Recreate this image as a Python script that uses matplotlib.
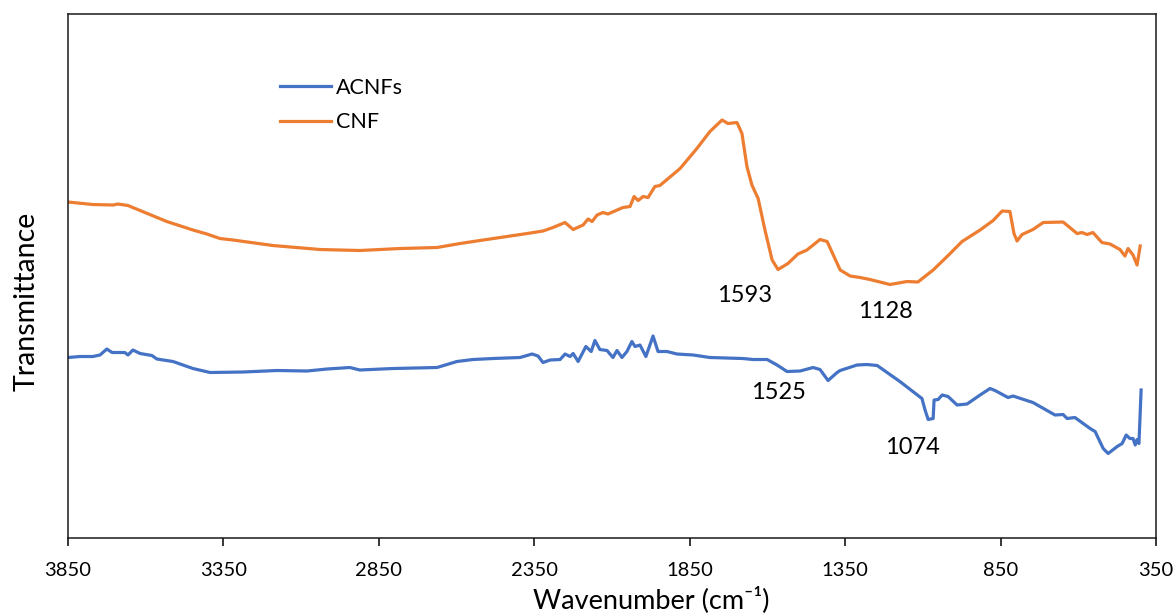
import matplotlib
matplotlib.use("Agg")
import matplotlib.pyplot as plt

plt.rcParams['font.family'] = ['Lato', 'DejaVu Sans']

# FTIR spectra, wavenumber (cm-1) vs transmittance (a.u.)
cnf_wn = [3850, 3770, 3705, 3689, 3657, 3618, 3532, 3448, 3403, 3361, 3319, 3191,
          3039, 2911, 2782, 2663, 2589, 2525, 2373, 2322, 2290, 2251, 2225, 2193,
          2177, 2164, 2148, 2129, 2113, 2065, 2042, 2029, 2016, 2000, 1984, 1962,
          1946, 1881, 1827, 1785, 1746, 1727, 1698, 1682, 1666, 1650, 1630, 1608,
          1585, 1566, 1534, 1502, 1473, 1431, 1408, 1366, 1334, 1302, 1270, 1206,
          1151, 1116, 1067, 1022, 974, 916, 874, 845, 820, 807, 797, 781, 746, 713,
          649, 604, 588, 572, 553, 524, 498, 466, 450, 440, 424, 411, 401]
cnf_t = [67.2, 66.7, 66.6, 66.8, 66.5, 65.5, 63.3, 61.6, 60.8, 59.9, 59.6, 58.5,
         57.7, 57.5, 57.9, 58.1, 58.9, 59.5, 60.9, 61.4, 62.1, 63.1, 61.7, 62.6,
         63.8, 63.3, 64.6, 65.1, 64.8, 66.1, 66.3, 68.3, 67.5, 68.3, 68.1, 70.3,
         70.5, 73.9, 77.9, 81.3, 83.6, 82.9, 83.1, 80.9, 74.3, 70.6, 67.9, 61.6,
         55.6, 53.7, 54.9, 56.8, 57.6, 59.7, 59.3, 53.6, 52.4, 52.1, 51.7, 50.7,
         51.3, 51.2, 53.6, 56.3, 59.3, 61.6, 63.5, 65.4, 65.3, 60.9, 59.4, 60.7,
         61.7, 63.1, 63.2, 60.9, 61.1, 60.7, 61.1, 59.1, 58.8, 57.7, 56.4, 57.9,
         56.6, 54.6, 58.4]

acnf_wn = [3850, 3811, 3770, 3747, 3725, 3708, 3667, 3657, 3641, 3618, 3580, 3564,
           3512, 3448, 3393, 3287, 3178, 3081, 3017, 2943, 2911, 2805, 2663, 2599,
           2547, 2483, 2396, 2357, 2338, 2322, 2299, 2267, 2251, 2235, 2225, 2209,
           2184, 2167, 2155, 2139, 2116, 2097, 2084, 2068, 2052, 2036, 2026, 2010,
           1991, 1968, 1952, 1923, 1891, 1839, 1785, 1679, 1646, 1601, 1569, 1537,
           1495, 1453, 1431, 1405, 1376, 1366, 1312, 1280, 1247, 1174, 1103, 1093,
           1083, 1067, 1064, 1051, 1038, 1019, 990, 958, 916, 884, 868, 826, 810,
           746, 675, 649, 636, 611, 562, 546, 520, 504, 475, 459, 446, 434, 424,
           417, 411, 405, 398]
acnf_t = [36.1, 36.3, 36.3, 36.6, 37.8, 37.1, 37.1, 36.6, 37.6, 36.9, 36.5, 35.8,
          35.3, 33.9, 33.1, 33.2, 33.5, 33.4, 33.8, 34.1, 33.6, 33.9, 34.1, 35.3,
          35.7, 35.9, 36.1, 36.8, 36.4, 35.1, 35.6, 35.7, 36.8, 36.3, 36.9, 35.3,
          38.3, 37.3, 39.5, 37.7, 37.5, 36.1, 37.5, 36.1, 37.3, 39.3, 38.3, 38.6,
          36.3, 40.4, 37.3, 37.3, 36.8, 36.6, 36.1, 35.9, 35.7, 35.7, 34.6, 33.3,
          33.4, 34.1, 33.7, 31.5, 33.1, 33.5, 34.6, 34.7, 34.5, 31.3, 27.9, 25.6,
          23.7, 23.9, 27.6, 27.7, 28.6, 28.3, 26.6, 26.8, 28.6, 29.9, 29.5, 28.1,
          28.4, 27.1, 24.6, 24.7, 23.9, 24.1, 21.9, 21.3, 17.9, 16.9, 18.3, 18.9,
          20.6, 19.9, 19.9, 18.6, 19.7, 18.9, 29.6]

# peak labels: (text, wavenumber, transmittance)
peak_labels = [("1593", 1672, 48.6), ("1128", 1222, 45.4),
               ("1525", 1563, 29.2), ("1074", 1135, 18.2)]

fig = plt.figure(figsize=(11.74, 6.15), dpi=100)
ax = fig.add_axes([0.0579, 0.1252, 0.9268, 0.852])

ax.plot(acnf_wn, acnf_t, color='#4472C4', linewidth=2.3, label='ACNFs')
ax.plot(cnf_wn, cnf_t, color='#ED7D31', linewidth=2.3, label='CNF')

for txt, wn, t in peak_labels:
    ax.text(wn, t, txt, fontsize=17, ha='center', va='center')

ax.set_xlim(3850, 350)
ax.set_ylim(0, 104.8)
ax.set_xticks(range(3850, 349, -500))
ax.set_yticks([])
ax.tick_params(axis='x', direction='out', length=6, width=1.1, labelsize=14.5, pad=11)

for sp in ax.spines.values():
    sp.set_linewidth(1.1)
    sp.set_color('#1a1a1a')

ax.set_xlabel('Wavenumber (cm⁻¹)', fontsize=19.5)
ax.set_ylabel('Transmittance', fontsize=20.5)
ax.xaxis.set_label_coords(0.536, -0.092)
ax.yaxis.set_label_coords(-0.026, 0.452)

ax.legend(loc='upper left', bbox_to_anchor=(0.177, 0.915), frameon=False,
          fontsize=15.5, handlelength=2.35, handletextpad=0.25, labelspacing=0.66)

fig.savefig('out.png', dpi=100)
